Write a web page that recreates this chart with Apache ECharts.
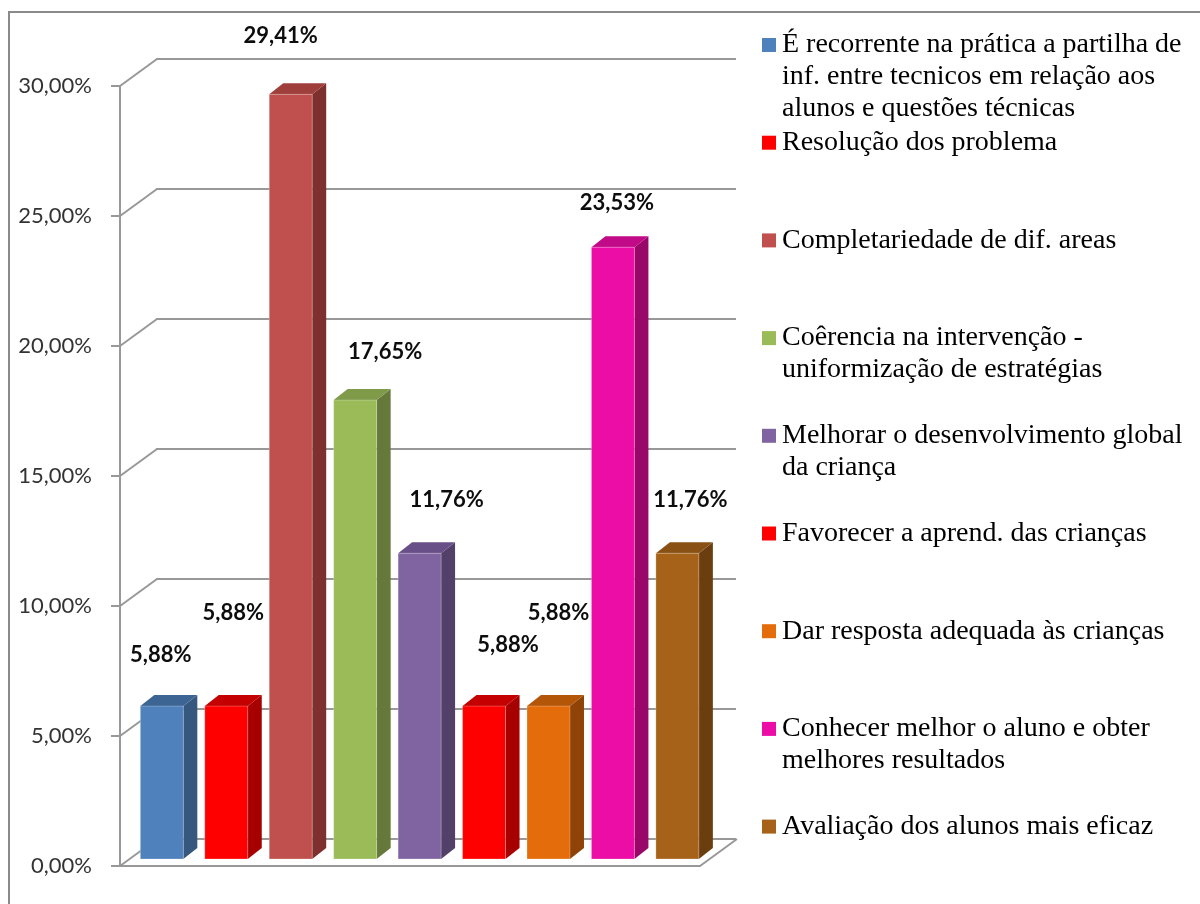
<!DOCTYPE html>
<html>
<head>
<meta charset="utf-8">
<script src="https://cdn.jsdelivr.net/npm/echarts@6/dist/echarts.min.js"></script>
<style>
    html, body { margin: 0; padding: 0; background: #fff; }
    #chart { width: 1200px; height: 904px; }
</style>
</head>
<body>
<div id="chart"></div>
<script>
const categories = [
    'É recorrente na prática a partilha de\ninf. entre tecnicos em relação aos\nalunos e questões técnicas',
    'Resolução dos problema',
    'Completariedade de dif. areas',
    'Coêrencia na intervenção -\nuniformização de estratégias',
    'Melhorar o desenvolvimento global\nda criança',
    'Favorecer a aprend. das crianças',
    'Dar resposta adequada às crianças',
    'Conhecer melhor o aluno e obter\nmelhores resultados',
    'Avaliação dos alunos mais eficaz'
];
const values = [5.88, 5.88, 29.41, 17.65, 11.76, 5.88, 5.88, 23.53, 11.76];
const yTicks = [0, 5, 10, 15, 20, 25, 30];

const frontColors = ['#4f81bd', '#ff0000', '#c0504d', '#9bbb59', '#8064a2', '#ff0000', '#e46c0a', '#ec0ca6', '#a66219'];
const sideColors = ['#36587f', '#a60000', '#7e302e', '#66793a', '#524069', '#a60000', '#8f4307', '#990868', '#6b3e10'];
const topColors = ['#3d6594', '#c40000', '#9e3f3c', '#7f9a49', '#684f87', '#c40000', '#b35608', '#c00a88', '#8a5115'];

// excel put the 3d labels in odd places, nudge them (px from the top of each bar)
const labelShift = [[-1, 40], [7, 82], [-10, 47], [30, 37], [27, 42], [24, 50], [10, 82], [4, 33], [13, 42]];

// depth of the side wall and of one bar, in px
const WALL_DX = 37, WALL_DY = -27;
const BAR_DX = 14, BAR_DY = -11;
const FRONT_DX = 9.6, FRONT_DY = -7;
const GRID_COLOR = '#989898';
const SERIF = '"Liberation Serif", "Times New Roman", serif';

function fmt(v) {
    return v.toFixed(2).replace('.', ',') + '%';
}

function renderBar(i, api) {
    let cat = api.value(0);
    let v = api.value(1);
    let band = api.size([1, 0])[0];
    let base = api.coord([cat, 0]);
    let top = api.coord([cat, v]);
    let w = band * 0.667;
    let cx = base[0] + FRONT_DX;
    let x0 = cx - w / 2, x1 = cx + w / 2;
    let yb = base[1] + FRONT_DY, yt = top[1] + FRONT_DY;

    return {
        type: 'group',
        children: [
            {
                type: 'polygon',
                shape: { points: [[x1, yb], [x1, yt], [x1 + BAR_DX, yt + BAR_DY], [x1 + BAR_DX, yb + BAR_DY]] },
                style: { fill: sideColors[i] }
            },
            {
                type: 'polygon',
                shape: { points: [[x0, yt], [x1, yt], [x1 + BAR_DX, yt + BAR_DY], [x0 + BAR_DX, yt + BAR_DY]] },
                style: { fill: topColors[i] }
            },
            {
                type: 'rect',
                shape: { x: x0, y: yt, width: w, height: yb - yt },
                style: { fill: frontColors[i], stroke: 'rgba(255,255,255,0.25)', lineWidth: 1 }
            },
            {
                type: 'text',
                x: cx + labelShift[i][0],
                y: yt + BAR_DY - labelShift[i][1],
                z2: 100,
                style: {
                    text: fmt(v),
                    font: 'bold 22px Lato',
                    fill: '#0d0d0d',
                    align: 'center',
                    verticalAlign: 'middle'
                }
            }
        ]
    };
}

function renderWalls(params, api) {
    let v = api.value(1);
    let band = api.size([1, 0])[0];
    let p = api.coord([0, v]);
    let x = p[0] - band / 2;
    let lines = [{
        type: 'line',
        shape: { x1: x, y1: p[1], x2: x + WALL_DX, y2: p[1] + WALL_DY },
        style: { stroke: GRID_COLOR, lineWidth: 2 }
    }];
    if (v === 0) {
        // floor, right edge
        let q = api.coord([categories.length - 1, 0]);
        let xr = q[0] + band / 2;
        lines.push({
            type: 'line',
            shape: { x1: xr, y1: q[1], x2: xr + WALL_DX, y2: q[1] + WALL_DY },
            style: { stroke: GRID_COLOR, lineWidth: 2 }
        });
    }
    return { type: 'group', children: lines };
}

let rich = {
    t: { fontFamily: SERIF, fontSize: 28, lineHeight: 32, color: '#000' },
    g: { width: 6 },
    s: { width: 20 }
};
frontColors.forEach((c, i) => {
    rich['m' + i] = { width: 14, height: 14, backgroundColor: c };
});

let series = [{
    type: 'custom',
    silent: true,
    renderItem: renderWalls,
    data: yTicks.map(v => [0, v])
}];
categories.forEach((name, i) => {
    series.push({
        type: 'custom',
        name: name,
        silent: true,
        renderItem: (params, api) => renderBar(i, api),
        data: [[i, values[i]]]
    });
});

let chart = echarts.init(document.getElementById('chart'));
chart.setOption({
    animation: false,
    backgroundColor: '#fff',
    graphic: [{
        type: 'rect',
        shape: { x: 9, y: 12, width: 1300, height: 1000 },
        style: { fill: 'none', stroke: '#8a8a8a', lineWidth: 2 },
        silent: true
    }],
    grid: [
        { left: 120, right: 500, top: 86, bottom: 38 },
        { left: 156, right: 464, top: 59, bottom: 65 }
    ],
    xAxis: [
        {
            type: 'category',
            gridIndex: 0,
            data: categories,
            axisLine: { lineStyle: { color: GRID_COLOR, width: 2 } },
            axisTick: { show: false },
            axisLabel: { show: false }
        },
        {
            type: 'category',
            gridIndex: 1,
            data: categories,
            show: false
        }
    ],
    yAxis: [
        {
            type: 'value',
            gridIndex: 0,
            min: 0,
            max: 30,
            interval: 5,
            axisLine: { show: true, lineStyle: { color: GRID_COLOR, width: 2 } },
            axisTick: { show: true, length: 9, lineStyle: { color: GRID_COLOR, width: 2 } },
            axisLabel: {
                formatter: v => fmt(v),
                fontFamily: 'Lato',
                fontSize: 22,
                color: '#333',
                margin: 28
            },
            splitLine: { show: false }
        },
        {
            type: 'value',
            gridIndex: 1,
            min: 0,
            max: 30,
            interval: 5,
            axisLine: { show: false },
            axisTick: { show: false },
            axisLabel: { show: false },
            splitLine: { show: true, lineStyle: { color: GRID_COLOR, width: 2 } }
        }
    ],
    legend: {
        orient: 'vertical',
        left: 757,
        top: 29,
        height: 870,
        padding: 0,
        itemGap: 1.7,
        itemWidth: 0,
        itemHeight: 14,
        icon: 'none',
        selectedMode: false,
        data: categories,
        formatter: name => {
            let i = categories.indexOf(name);
            let lines = name.split('\n');
            let out = [`{m${i}|}{g|}{t|${lines[0]}}`];
            for (let k = 1; k < lines.length; k++) {
                out.push(`{s|}{t|${lines[k]}}`);
            }
            // every entry takes 3 rows so they sit on an even pitch, the last one doesn't need to
            if (i < categories.length - 1) {
                while (out.length < 3) out.push('{t| }');
            }
            return out.join('\n');
        },
        textStyle: { fontFamily: SERIF, fontSize: 28, lineHeight: 32, color: '#000', rich: rich }
    },
    series: series
});
</script>
</body>
</html>
